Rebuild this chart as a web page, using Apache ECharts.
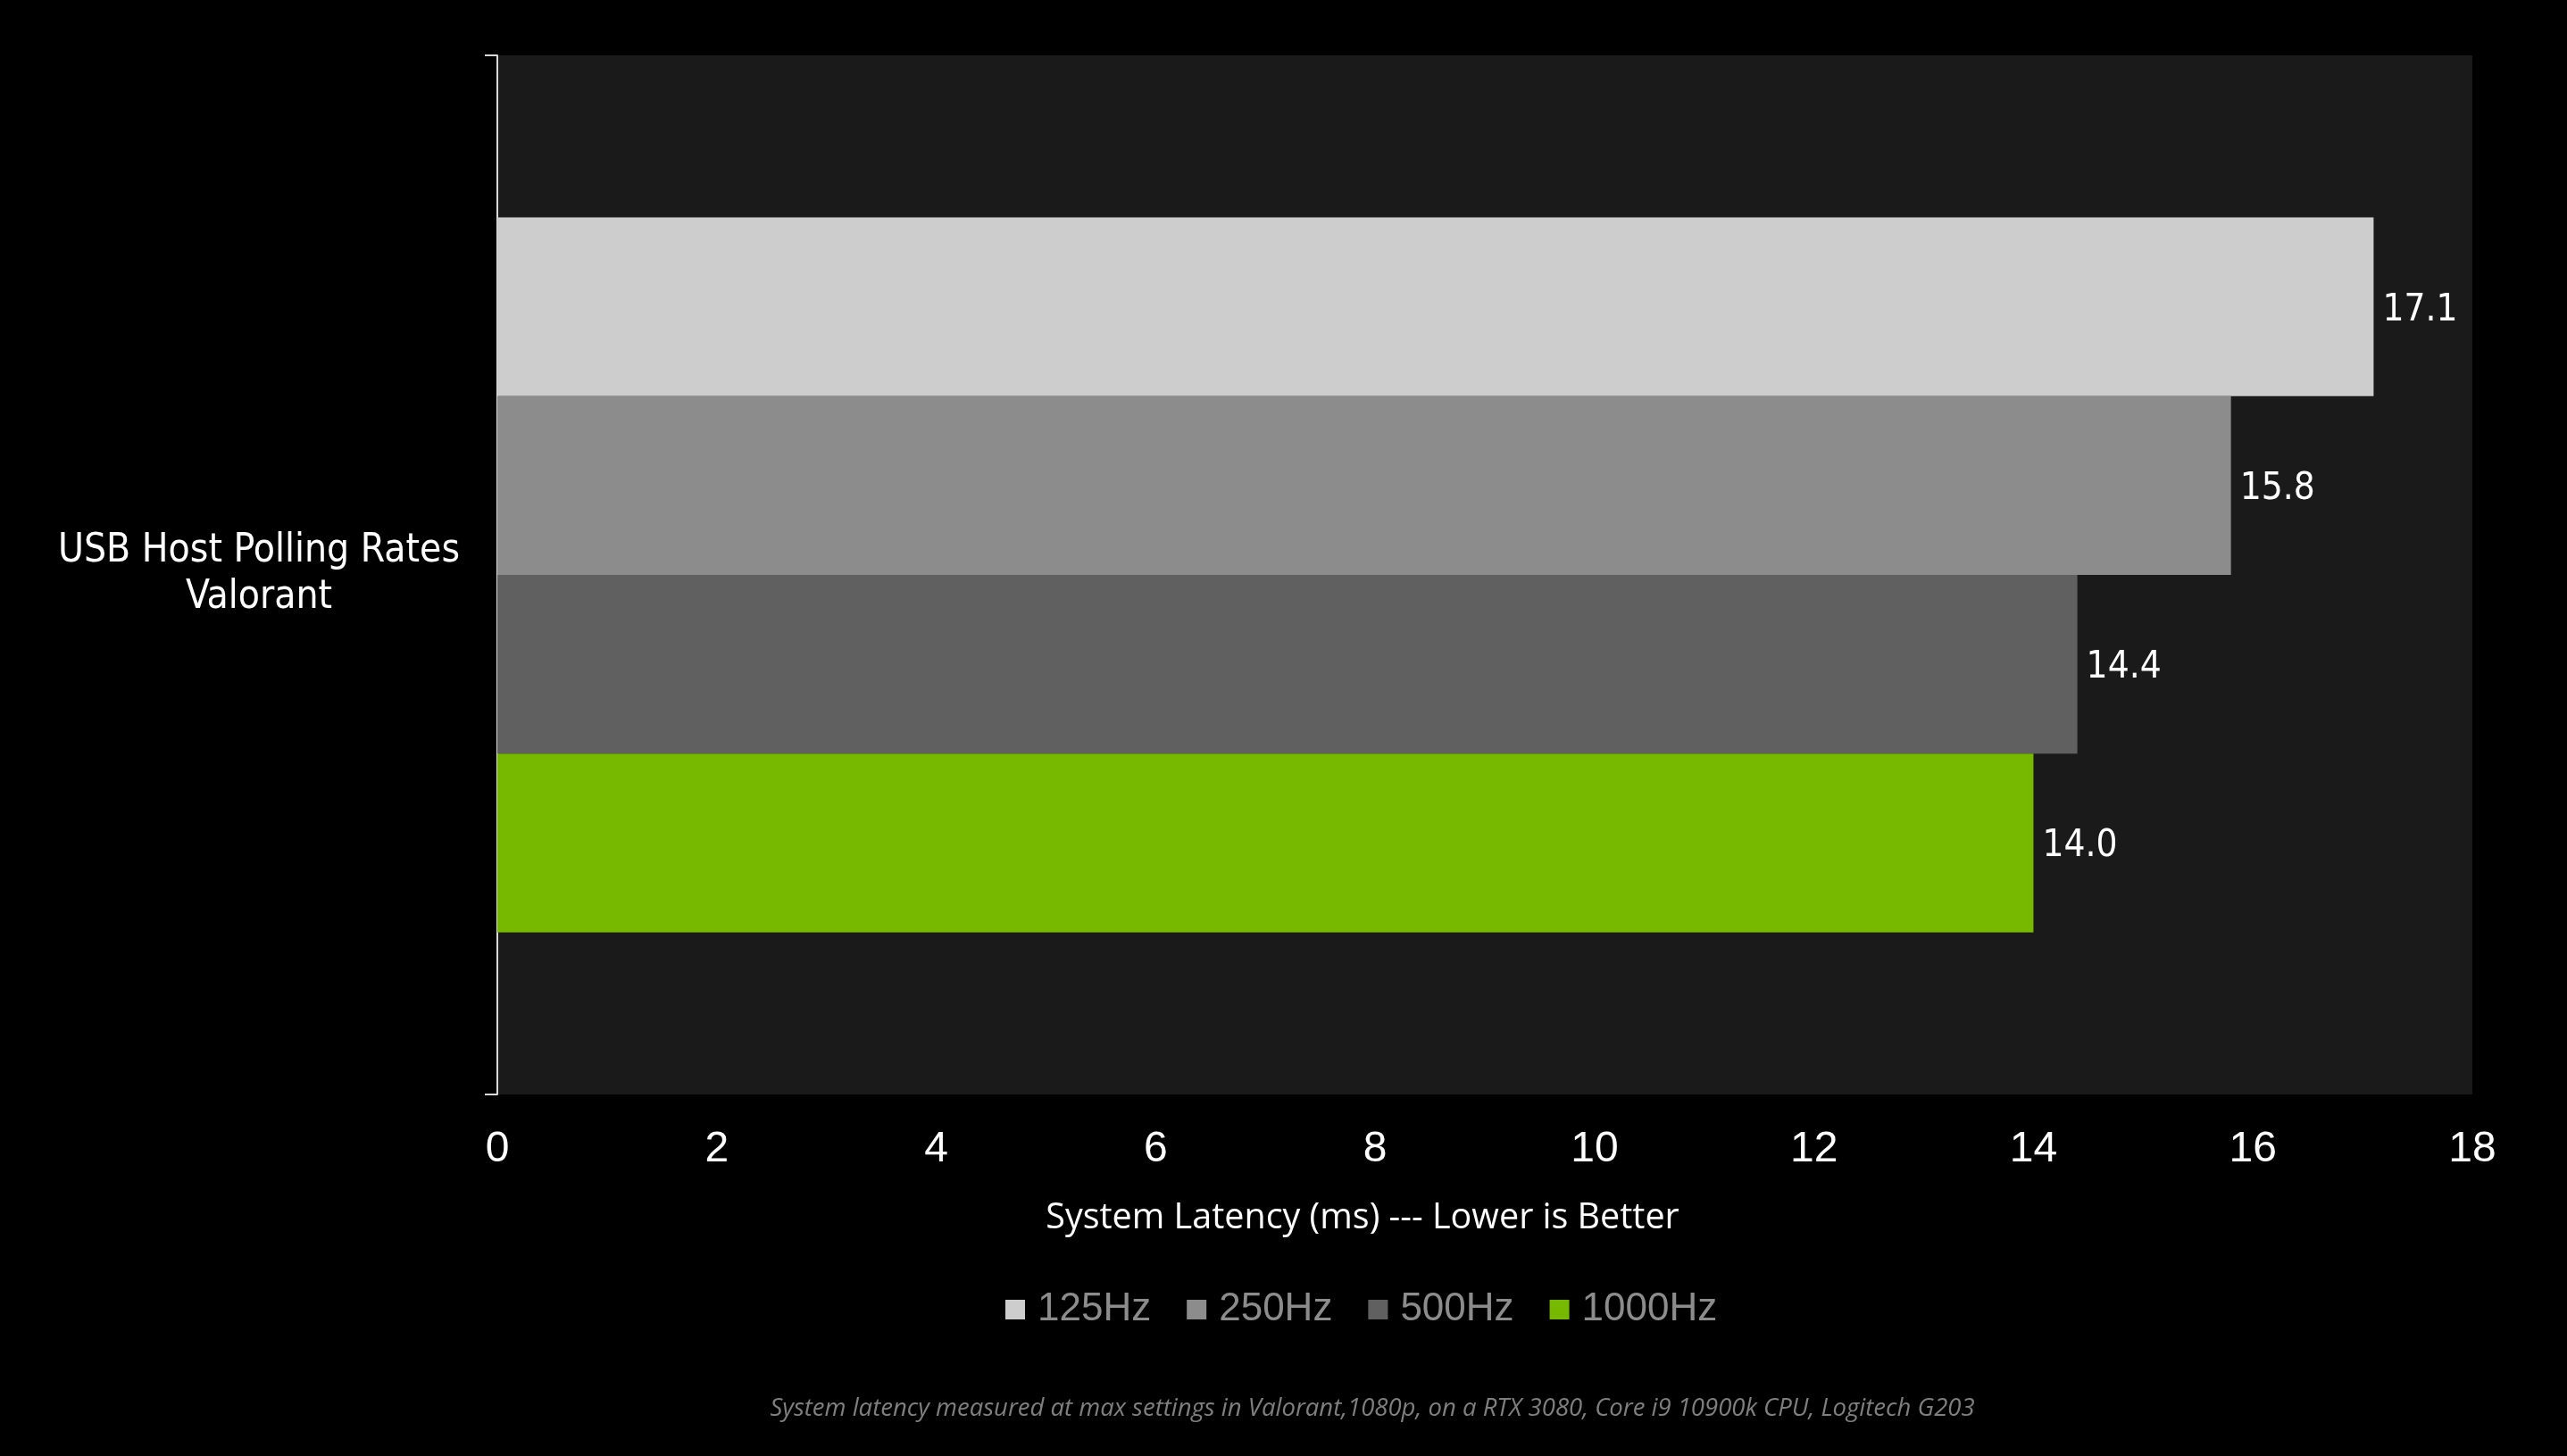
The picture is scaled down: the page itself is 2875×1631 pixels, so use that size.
<!DOCTYPE html>
<html>
<head>
<meta charset="utf-8">
<script src="https://cdn.jsdelivr.net/npm/echarts@6/dist/echarts.min.js"></script>
<style>
html,body{margin:0;padding:0;background:#000;}
#c{width:2875px;height:1631px;}
</style>
</head>
<body>
<div id="c"></div>
<script>
const categories = ['USB Host Polling Rates\nValorant'];
const seriesNames = ['125Hz', '250Hz', '500Hz', '1000Hz'];
const latencyValues = [17.1, 15.8, 14.4, 14.0];
const seriesColors = ['#cdcdcd', '#8c8c8c', '#606060', '#76b900'];
const xMin = 0, xMax = 18, xInterval = 2;
const axisTitle = 'System Latency (ms) --- Lower is Better';
const footnote = 'System latency measured at max settings in Valorant,1080p, on a RTX 3080, Core i9 10900k CPU, Logitech G203';

const chart = echarts.init(document.getElementById('c'));
const labelFont = '"DejaVu Sans Condensed", "DejaVu Sans", sans-serif';

const series = seriesNames.map((name, i) => ({
  name: name,
  type: 'bar',
  data: [latencyValues[i]],
  barGap: '0%',
  barCategoryGap: '31.2%',
  itemStyle: { color: seriesColors[i] },
  label: {
    show: true,
    position: 'right',
    distance: 10,
    offset: [0, 4],
    color: '#ffffff',
    fontFamily: labelFont,
    fontSize: 42,
    formatter: p => Number(p.value).toFixed(1)
  }
}));

chart.setOption({
  backgroundColor: '#000000',
  animation: false,
  grid: {
    left: 557, right: 106, top: 62, bottom: 405,
    show: true, backgroundColor: '#1a1a1a', borderWidth: 0,
    containLabel: false
  },
  xAxis: {
    type: 'value',
    min: xMin, max: xMax, interval: xInterval,
    axisLine: { show: false },
    axisTick: { show: false },
    splitLine: { show: false },
    axisLabel: {
      color: '#ffffff',
      fontFamily: '"Liberation Sans", Arial, sans-serif',
      fontSize: 48,
      margin: 38
    }
  },
  yAxis: {
    type: 'category',
    inverse: true,
    data: categories,
    axisLine: { show: true, lineStyle: { color: '#d9d9d9', width: 2 } },
    axisTick: { show: true, length: 14, lineStyle: { color: '#d9d9d9', width: 2 } },
    axisLabel: {
      color: '#ffffff',
      fontFamily: labelFont,
      fontSize: 44,
      lineHeight: 52,
      align: 'center',
      margin: 267
    }
  },
  legend: {
    data: seriesNames,
    left: 1121,
    top: 1440,
    icon: 'rect',
    itemWidth: 22,
    itemHeight: 22,
    itemGap: 40,
    itemStyle: { borderWidth: 0 },
    textStyle: {
      color: '#8c8c8c',
      fontFamily: '"Liberation Sans", Arial, sans-serif',
      fontSize: 44,
      padding: [0, 0, 0, 9]
    }
  },
  graphic: [
    {
      type: 'text',
      x: 1526, y: 1365,
      style: {
        text: axisTitle,
        fill: '#ffffff',
        font: '39.5px "Open Sans", sans-serif',
        textAlign: 'center',
        textVerticalAlign: 'middle'
      }
    },
    {
      type: 'text',
      x: 1537, y: 1578,
      style: {
        text: footnote,
        fill: '#7f7f7f',
        font: 'italic 27.5px "Open Sans", sans-serif',
        textAlign: 'center',
        textVerticalAlign: 'middle'
      }
    }
  ],
  series: series
});
</script>
</body>
</html>
